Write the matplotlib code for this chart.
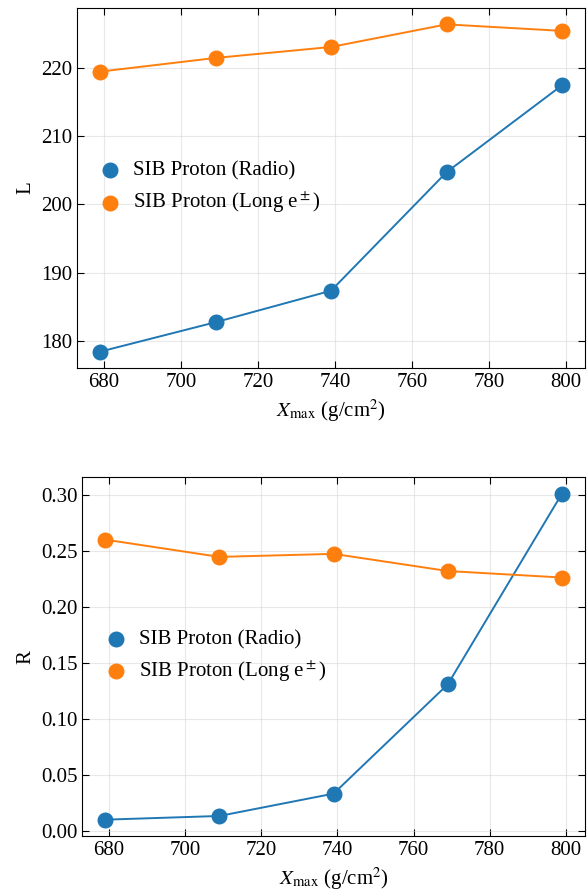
import matplotlib
matplotlib.use("Agg")
import matplotlib.pyplot as plt

plt.rcParams['font.family'] = ['Liberation Serif', 'DejaVu Serif']
plt.rcParams['mathtext.fontset'] = 'stix'

# Xmax values (g/cm^2)
xmax = [679, 709, 739, 769, 799]

# L parameter
L_radio = [178.5, 182.8, 187.4, 204.7, 217.4]
L_long = [219.4, 221.4, 223.0, 226.3, 225.35]

# R parameter
R_radio = [0.0104, 0.0137, 0.0336, 0.131, 0.301]
R_long = [0.260, 0.2446, 0.2473, 0.232, 0.2262]

lab_radio = 'SIB Proton (Radio)'
lab_long = r'SIB Proton (Long e$^\pm$)'

fig = plt.figure(figsize=(5.88, 8.9), dpi=100)
ax1 = fig.add_axes([0.131, 0.5865, 0.864, 0.4045])
ax2 = fig.add_axes([0.140, 0.0607, 0.8546, 0.403])

for ax, radio, longe, ylab in [(ax1, L_radio, L_long, 'L'), (ax2, R_radio, R_long, 'R')]:
    ax.plot(xmax, radio, color='tab:blue', lw=1.4, zorder=2)
    ax.plot(xmax, longe, color='tab:orange', lw=1.4, zorder=2)
    ax.scatter(xmax, radio, s=110, color='tab:blue', label=lab_radio, zorder=3)
    ax.scatter(xmax, longe, s=110, color='tab:orange', label=lab_long, zorder=3)
    ax.set_xlabel(r'$X_{\rm max}$ (g/cm$^2$)', fontsize=15)
    ax.set_ylabel(ylab, fontsize=15)
    ax.set_xticks([680, 700, 720, 740, 760, 780, 800])
    ax.tick_params(direction='in', top=True, right=True, labelsize=15, length=5)
    ax.grid(True, color='lightgray', alpha=0.5, lw=0.8)
    ax.legend(loc='center left', frameon=False, fontsize=15,
              handlelength=1.4, handletextpad=0.4)

ax2.set_yticks([0.0, 0.05, 0.10, 0.15, 0.20, 0.25, 0.30])
ax2.set_yticklabels(['0.00', '0.05', '0.10', '0.15', '0.20', '0.25', '0.30'])

fig.savefig('out.png', dpi=100)
